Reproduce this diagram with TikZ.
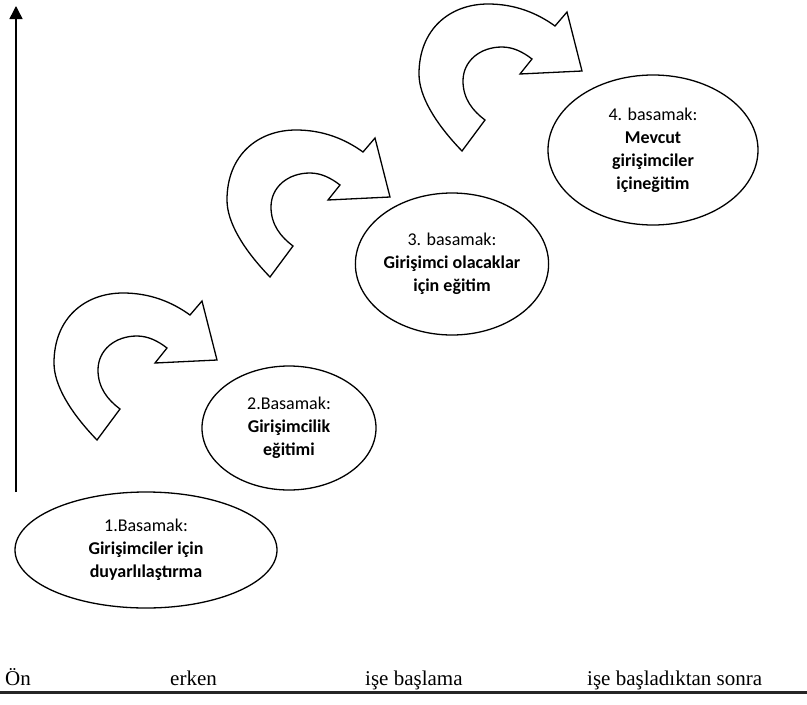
\documentclass[tikz,border=0pt]{standalone}
\usepackage{fontspec}
\setmainfont{Liberation Serif}
\newfontfamily\calib{Carlito}
\usetikzlibrary{shapes.geometric,arrows.meta}
\tikzset{
  stage/.style={draw=black, line width=1.3pt, ellipse, inner sep=0pt, align=center,
    font=\calib\fontsize{18}{23}\selectfont},
  bendline/.style={draw=black, line width=1.3pt, fill=white, line join=miter},
  phase/.style={anchor=base west, inner sep=0pt, font=\fontsize{21}{25}\selectfont},
  curvearrow/.pic={
    \path[bendline] (0,0) .. controls (-27,-28) and (-43,-55) .. (-43,-77)
      .. controls (-43,-122) and (-12,-147) .. (26,-147)
      .. controls (53,-147) and (75,-138) .. (93,-125)
      -- (105,-139) -- (120,-80) -- (58,-77) -- (70,-92)
      .. controls (61,-99) and (51,-104) .. (40,-104)
      .. controls (18,-104) and (1,-90) .. (1,-70)
      .. controls (1,-52) and (11,-40) .. (23,-31)
      -- cycle;
  }
}
\begin{document}
\begin{tikzpicture}[x=1pt,y=-1pt]
\useasboundingbox (0,0) rectangle (807,705);
% axis
\coordinate (axb) at (16,492);
\coordinate (axt) at (16,6);
\draw[line width=1.5pt,-{Triangle[width=13pt,length=13pt]}] (axb) -- (axt);
% curved arrows
\pic at (97,440) {curvearrow};
\pic at (270,277) {curvearrow};
\pic at (462,151) {curvearrow};
% stages
\node[stage, minimum width=262pt, minimum height=116pt] (e1) at (146,550)
  {1.Basamak:\\\textbf{Girişimciler için}\\\textbf{duyarlılaştırma}};
\node[stage, minimum width=174pt, minimum height=124pt] (e2) at (289,428)
  {2.Basamak:\\\textbf{Girişimcilik}\\\textbf{eğitimi}};
\node[stage, minimum width=191pt, minimum height=142pt] (e3) at (452,264)
  {3. basamak:\\\textbf{Girişimci olacaklar}\\\textbf{için eğitim}};
\node[stage, minimum width=210pt, minimum height=150pt] (e4) at (653,150)
  {4. basamak:\\\textbf{Mevcut}\\\textbf{girişimciler}\\\textbf{içineğitim}};
% phases
\node[phase] (p1) at (5,685) {Ön};
\node[phase] (p2) at (170,685) {erken};
\node[phase] (p3) at (365,685) {işe başlama};
\node[phase] (p4) at (587,685) {işe başladıktan sonra};
\coordinate (bl) at (0,692.5);
\coordinate (br) at (807,692.5);
\draw[line width=2.5pt, black!85] (bl) -- (br);
\end{tikzpicture}
\end{document}
